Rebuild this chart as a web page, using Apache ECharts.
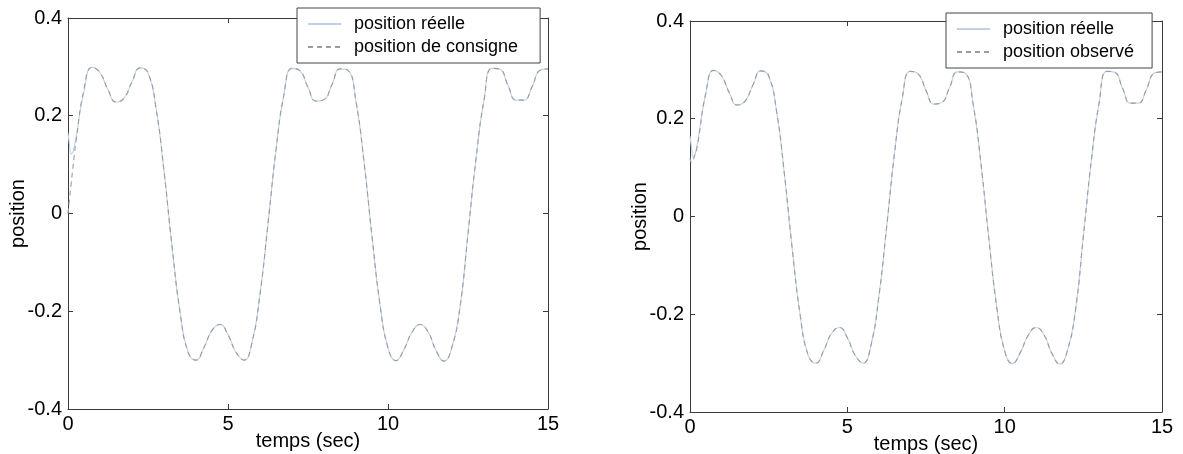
<!DOCTYPE html>
<html>
<head>
<meta charset="utf-8">
<script src="https://cdn.jsdelivr.net/npm/echarts@6/dist/echarts.min.js"></script>
<style>
html,body{margin:0;padding:0;background:#fff;}
#c{width:1183px;height:454px;}
</style>
</head>
<body>
<div id="c"></div>
<script>
// time samples (sec)
var time = [0,0.05,0.1,0.15,0.2,0.25,0.5,0.75,1,1.25,1.5,1.75,2,2.25,2.5,2.75,3,3.25,3.5,3.75,4,4.25,4.5,4.75,5,5.25,5.5,5.75,6,6.25,6.5,6.75,7,7.25,7.5,7.75,8,8.25,8.5,8.75,9,9.25,9.5,9.75,10,10.25,10.5,10.75,11,11.25,11.5,11.75,12,12.25,12.5,12.75,13,13.25,13.5,13.75,14,14.25,14.5,14.75,15];
// position de consigne
var consigne = [0,0.031,0.062,0.092,0.121,0.148,0.255,0.299,0.288,0.253,0.228,0.236,0.269,0.298,0.288,0.216,0.087,-0.067,-0.201,-0.283,-0.300,-0.274,-0.239,-0.227,-0.248,-0.284,-0.300,-0.264,-0.165,-0.021,0.130,0.244,0.297,0.292,0.258,0.230,0.233,0.264,0.296,0.293,0.229,0.106,-0.047,-0.186,-0.275,-0.301,-0.278,-0.243,-0.227,-0.242,-0.280,-0.302,-0.273,-0.192,-0.041,0.112,0.232,0.297,0.295,0.262,0.232,0.232,0.259,0.293,0.296];
// position réelle
var reelle = [0.165,0.140,0.122,0.125,0.138,0.155,0.250,0.299,0.288,0.253,0.228,0.236,0.269,0.298,0.288,0.216,0.087,-0.067,-0.201,-0.283,-0.300,-0.274,-0.239,-0.227,-0.248,-0.284,-0.300,-0.264,-0.165,-0.021,0.130,0.244,0.297,0.292,0.258,0.230,0.233,0.264,0.296,0.293,0.229,0.106,-0.047,-0.186,-0.275,-0.301,-0.278,-0.243,-0.227,-0.242,-0.280,-0.302,-0.273,-0.192,-0.041,0.112,0.232,0.297,0.295,0.262,0.232,0.232,0.259,0.293,0.296];
// position observé
var observe = [0.120,0.110,0.115,0.125,0.135,0.150,0.252,0.299,0.288,0.253,0.228,0.236,0.269,0.298,0.288,0.216,0.087,-0.067,-0.201,-0.283,-0.300,-0.274,-0.239,-0.227,-0.248,-0.284,-0.300,-0.264,-0.165,-0.021,0.130,0.244,0.297,0.292,0.258,0.230,0.233,0.264,0.296,0.293,0.229,0.106,-0.047,-0.186,-0.275,-0.301,-0.278,-0.243,-0.227,-0.242,-0.280,-0.302,-0.273,-0.192,-0.041,0.112,0.232,0.297,0.295,0.262,0.232,0.232,0.259,0.293,0.296];

var xName = 'temps (sec)';
var yName = 'position';
var legendLeft = ['position réelle', 'position de consigne'];
var legendRight = ['position réelle', 'position observé'];

function pairs(v){ return time.map(function(t,i){ return [t, v[i]]; }); }

var FONT = 'Liberation Sans, Arial, Helvetica, sans-serif';
var axisLineStyle = {color:'#3a3a3a', width:1};

function xAx(grid, pos){
  var main = pos === 'bottom';
  return {
    type:'value', gridIndex:grid, position:pos, min:0, max:15, interval:5,
    name: main ? xName : '', nameLocation:'middle', nameGap:22, nameMoveOverlap:false,
    nameTextStyle:{fontSize:20, color:'#000', fontFamily:FONT},
    axisLine:{show:true, onZero:false, lineStyle:axisLineStyle},
    axisTick:{show:true, inside:true, length:5, lineStyle:axisLineStyle},
    axisLabel:{show:main, fontSize:20, color:'#000', fontFamily:FONT, margin:5},
    splitLine:{show:false}
  };
}
function yAx(grid, pos){
  var main = pos === 'left';
  return {
    type:'value', gridIndex:grid, position:pos, min:-0.4, max:0.4, interval:0.2,
    name: main ? yName : '', nameLocation:'middle', nameGap:40, nameMoveOverlap:false,
    nameTextStyle:{fontSize:20, color:'#000', fontFamily:FONT},
    axisLine:{show:true, onZero:false, lineStyle:axisLineStyle},
    axisTick:{show:true, inside:true, length:5, lineStyle:axisLineStyle},
    axisLabel:{show:main, fontSize:20, color:'#000', fontFamily:FONT, margin:6},
    splitLine:{show:false}
  };
}

var reelleStyle = {color:'#bdd2e8', width:1.1, type:'solid'};
var dashStyle = {color:'#9c9c9c', width:1.1, type:[5,4]};

function line(name, v, xi, yi, style){
  return {
    name:name, type:'line', xAxisIndex:xi, yAxisIndex:yi, data:pairs(v),
    smooth:true, symbol:'none', showSymbol:false, lineStyle:style,
    itemStyle:{color:style.color}, emphasis:{disabled:true}, silent:true, animation:false
  };
}

function legend(data, left, top, padR){
  return {
    data:data, orient:'vertical', left:left, top:top,
    padding:[6, padR, 6, 10], itemWidth:33, itemHeight:10, itemGap:3,
    itemStyle:{opacity:0},
    backgroundColor:'#fff', borderColor:'#444', borderWidth:1, borderRadius:0,
    textStyle:{fontSize:18, color:'#000', fontFamily:FONT, lineHeight:20, padding:[0,0,0,8]},
    selectedMode:false
  };
}

var chart = echarts.init(document.getElementById('c'), null, {renderer:'canvas'});
chart.setOption({
  backgroundColor:'#fff',
  animation:false,
  grid:[
    {left:68, top:18, width:480, height:391, outerBoundsMode:'none', containLabel:false},
    {left:690, top:21, width:472, height:391, outerBoundsMode:'none', containLabel:false}
  ],
  xAxis:[xAx(0,'bottom'), xAx(0,'top'), xAx(1,'bottom'), xAx(1,'top')],
  yAxis:[yAx(0,'left'), yAx(0,'right'), yAx(1,'left'), yAx(1,'right')],
  legend:[legend(legendLeft, 297, 8, 22), legend(legendRight, 946, 13, 18)],
  series:[
    line('position réelle', reelle, 0, 0, reelleStyle),
    line('position de consigne', consigne, 0, 0, dashStyle),
    line('position réelle', reelle, 2, 2, reelleStyle),
    line('position observé', observe, 2, 2, dashStyle)
  ]
});
</script>
</body>
</html>
